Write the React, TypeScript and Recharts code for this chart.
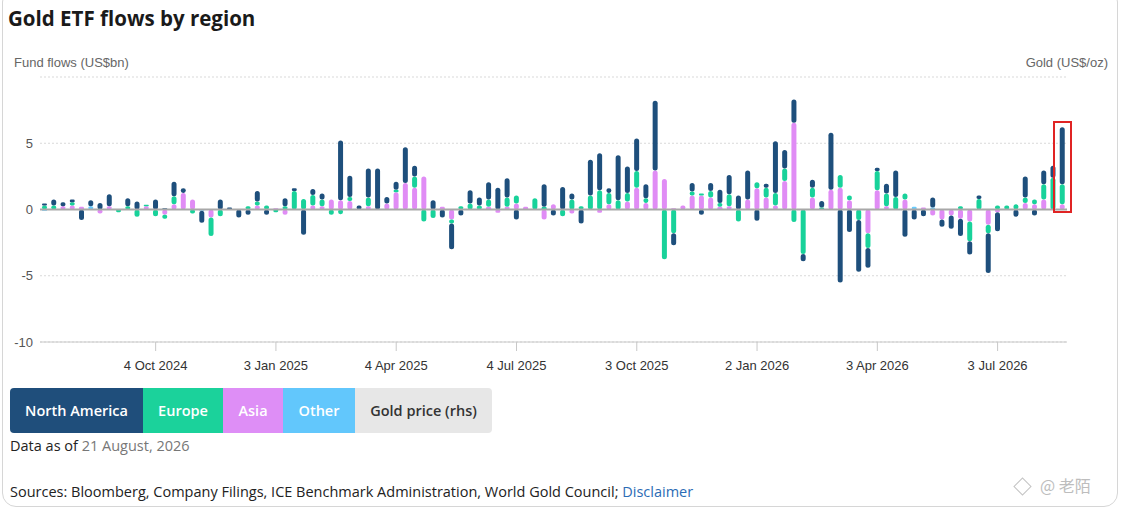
import React from 'react';
import { BarChart, Bar, XAxis, YAxis, CartesianGrid, ReferenceLine } from 'recharts';

// Weekly dates (Fridays)
const dates: string[] = [
  '2024-07-12', '2024-07-19', '2024-07-26', '2024-08-02', '2024-08-09', '2024-08-16', '2024-08-23', '2024-08-30',
  '2024-09-06', '2024-09-13', '2024-09-20', '2024-09-27', '2024-10-04', '2024-10-11', '2024-10-18', '2024-10-25',
  '2024-11-01', '2024-11-08', '2024-11-15', '2024-11-22', '2024-11-29', '2024-12-06', '2024-12-13', '2024-12-20',
  '2024-12-27', '2025-01-03', '2025-01-10', '2025-01-17', '2025-01-24', '2025-01-31', '2025-02-07', '2025-02-14',
  '2025-02-21', '2025-02-28', '2025-03-07', '2025-03-14', '2025-03-21', '2025-03-28', '2025-04-04', '2025-04-11',
  '2025-04-18', '2025-04-25', '2025-05-02', '2025-05-09', '2025-05-16', '2025-05-23', '2025-05-30', '2025-06-06',
  '2025-06-13', '2025-06-20', '2025-06-27', '2025-07-04', '2025-07-11', '2025-07-18', '2025-07-25', '2025-08-01',
  '2025-08-08', '2025-08-15', '2025-08-22', '2025-08-29', '2025-09-05', '2025-09-12', '2025-09-19', '2025-09-26',
  '2025-10-03', '2025-10-10', '2025-10-17', '2025-10-24', '2025-10-31', '2025-11-07', '2025-11-14', '2025-11-21',
  '2025-11-28', '2025-12-05', '2025-12-12', '2025-12-19', '2025-12-26', '2026-01-02', '2026-01-09', '2026-01-16',
  '2026-01-23', '2026-01-30', '2026-02-06', '2026-02-13', '2026-02-20', '2026-02-27', '2026-03-06', '2026-03-13',
  '2026-03-20', '2026-03-27', '2026-04-03', '2026-04-10', '2026-04-17', '2026-04-24', '2026-05-01', '2026-05-08',
  '2026-05-15', '2026-05-22', '2026-05-29', '2026-06-05', '2026-06-12', '2026-06-19', '2026-06-26', '2026-07-03',
  '2026-07-10', '2026-07-17', '2026-07-24', '2026-07-31', '2026-08-07', '2026-08-14', '2026-08-21',
];

// Fund flows, US$bn
const northAmerica: number[] = [
  0.15, 0.45, 0.3, 0.2, -0.8, 0.45, 0.5, 0.9, 0, 0.6, 0.6, 0, 0.75, 0.1, 1.1, 0.35,
  0, -0.9, 0, 0.75, 0.15, -0.6, -0.4, 0.8, -0.4, 0, 0.6, 0.2, -1.9, 0.45, 0.45, 0,
  4.5, 1.6, 0.3, 2.2, 3.1, 0.5, 0.6, 2.7, 0.8, 0, 0.7, -0.6, -1.95, -0.45, 1.0, 0.6,
  1.3, 1.65, 1.45, -0.75, 0, 0, 1.7, -0.45, 1.7, 0.45, -1.05, 2.7, 2.8, 0.35, 3.4, 2.0,
  2.45, 1.05, 5.25, 0, -0.9, 0, 0.65, -0.4, 0.6, 1.0, 1.45, 1.05, 2.2, -0.85, 0.3, 3.9,
  1.4, 1.75, -0.55, 0.6, 0.5, 4.3, -5.5, -1.7, -3.9, -1.5, 0.25, 0.75, 2.0, -2.05, -0.75, -0.5,
  0.75, -0.55, -1.0, -1.3, -1.0, 0.25, -3.0, -1.45, 0, -0.55, 1.6, -0.45, 1.05, 0.9, 4.3,
];
const europe: number[] = [
  0.3, 0.3, 0, 0.25, 0, 0, 0, 0, -0.2, 0.25, -0.55, 0.1, -0.5, -0.3, 0.6, 0,
  -0.3, 0, -1.4, -0.5, 0, 0, 0.25, 0.3, 0.3, -0.2, 0.25, 1.4, 0.8, 0.8, 0.5, -0.4,
  -0.35, 0.3, 0, 0.65, 0, 0, 0.2, 0, 0.85, -0.9, -0.65, 0, -0.3, 0.25, 0.45, 0.3,
  0.55, 0, 0.7, 0.6, 0, 0.85, 0.2, 0, -0.5, 0.75, 0.25, 1.05, 1.45, 0.85, 0.7, 0.65,
  1.25, 0.35, 0, -3.75, -1.8, 0, 0.3, 0.15, 0.5, 0.3, 0.9, -0.9, 0, 0.45, 0.75, 0.95,
  0.95, -0.95, -3.35, 0.75, 0.15, 0, 0.95, 0.35, -0.8, -1.1, 1.45, 0.95, 0.95, 0.45, 0, 0,
  0, 0, 0, 0.25, -1.5, 0.8, -0.65, 0.3, 0.3, 0.4, 0.4, 0.35, 1.15, 2.4, 1.5,
];
const asia: number[] = [
  0, 0, 0.25, 0.3, 0.2, 0, -0.3, 0.25, 0, 0, 0, 0.25, 0, -0.4, 0.4, 1.25,
  0.75, 0, -0.6, 0, 0, 0, 0, 0.3, 0, 0.1, -0.4, 0, 0, 0.3, 0.25, 0.75,
  0.7, 0.65, 0, 0.25, 0, 0.45, 1.3, 2.0, 1.65, 2.5, 0, 0.2, -0.75, 0, 0, 0,
  0.2, -0.25, 0.2, 0.45, 0.2, 0, -0.75, 0.4, 0, -0.3, 0, 0, -0.25, 0.4, 0, 0.6,
  1.65, 0.5, 2.95, 2.3, 0.1, 0.3, 1.05, 1.05, 0.9, 0.2, 0.25, 0, 0.75, 1.6, 0.9, 0.3,
  2.15, 6.55, 0, 0.9, 0, 1.5, 1.65, 0.7, 0, -1.8, 1.45, 0.25, 0, 0.75, 0, 0.15,
  -0.45, -0.75, -0.45, -0.7, -0.9, 0, -1.15, -0.2, 0, 0, 0.5, 0.4, 0.75, 0, 0.4,
];
const other: number[] = [
  -0.1, 0, 0, 0, 0, 0.25, 0, 0, 0, 0, 0, 0, 0, 0, 0, 0,
  0, -0.1, 0, 0, 0, 0, 0, 0, 0, 0, 0, 0, 0, 0, 0, 0,
  0, 0, 0, 0, 0, 0, 0, 0, 0, 0, 0, 0, 0, 0, 0, 0,
  0, 0, 0, 0, 0, 0, 0, 0, 0, 0, 0, 0, 0, 0, 0, 0,
  0, 0, 0, 0, 0, 0, 0, 0, 0, 0, 0, 0, 0, 0, 0, 0,
  0, 0, 0, 0, 0, 0, 0, 0, 0, 0, 0, 0, 0, 0, 0.2, 0,
  0.15, 0, 0, 0, 0, 0, 0, 0, 0, 0, 0, 0, 0, 0, 0,
];

const tickDates: string[] = ['2024-10-04', '2025-01-03', '2025-04-04', '2025-07-04', '2025-10-03', '2026-01-02', '2026-04-03', '2026-07-03'];
const tickLabels: string[] = ['4 Oct 2024', '3 Jan 2025', '4 Apr 2025', '4 Jul 2025', '3 Oct 2025', '2 Jan 2026', '3 Apr 2026', '3 Jul 2026'];
const yTicks: number[] = [-10, -5, 0, 5, 10];

const seriesNames = ['North America', 'Europe', 'Asia', 'Other', 'Gold price (rhs)'];

const COLORS = {
  na: '#1e4f7c',
  europe: '#18d29a',
  asia: '#e08cf5',
  other: '#66ccff',
};

const data = dates.map((d, i) => ({
  date: d,
  other: other[i],
  asia: asia[i],
  europe: europe[i],
  na: northAmerica[i],
}));

const legendItems = [
  { name: seriesNames[0], bg: '#1f4e7b', color: '#ffffff', width: 133 },
  { name: seriesNames[1], bg: '#1bd29b', color: '#ffffff', width: 80 },
  { name: seriesNames[2], bg: '#de8ef6', color: '#ffffff', width: 60 },
  { name: seriesNames[3], bg: '#62c7fc', color: '#ffffff', width: 72 },
  { name: seriesNames[4], bg: '#e7e7e7', color: '#333333', width: 137 },
];

const sans = '"Open Sans", "Noto Sans", sans-serif';
const arial = '"Liberation Sans", Arial, sans-serif';

export default function App() {
  return (
    <div style={{ position: 'absolute', left: 0, top: 0, width: 1122, height: 510, background: '#fff', overflow: 'hidden' }}>
      <div style={{ position: 'absolute', left: 2, top: -12, width: 1116, height: 519, border: '1px solid #d6d6d6', borderRadius: 14, boxSizing: 'border-box' }} />
      <div style={{ position: 'absolute', left: 8, top: 5, lineHeight: '26px', fontSize: 20.5, fontWeight: 700, fontFamily: sans, color: '#1a1a1a' }}>
        Gold ETF flows by region
      </div>
      <div style={{ position: 'absolute', left: 14, top: 55, lineHeight: '16px', fontSize: 13, fontFamily: arial, color: '#666' }}>
        Fund flows (US$bn)
      </div>
      <div style={{ position: 'absolute', right: 14, top: 55, lineHeight: '16px', fontSize: 13, fontFamily: arial, color: '#666' }}>
        Gold (US$/oz)
      </div>

      <div style={{ position: 'absolute', left: 0, top: 0 }}>
        <BarChart
          width={1122}
          height={380}
          data={data}
          stackOffset="sign"
          barCategoryGap={0}
          margin={{ top: 77, right: 55, left: 0, bottom: 0 }}
        >
          <CartesianGrid vertical={false} strokeDasharray="2 2" stroke="#d9d9d9" />
          <XAxis
            dataKey="date"
            type="category"
            ticks={tickDates}
            interval={0}
            height={38}
            tickSize={9}
            tickMargin={10}
            axisLine={{ stroke: '#c8c8c8' }}
            tickLine={{ stroke: '#c8c8c8' }}
            tick={{ fontSize: 13, fill: '#333', fontFamily: arial }}
            tickFormatter={(v: string) => {
              const k = tickDates.indexOf(v);
              return k >= 0 ? tickLabels[k] : '';
            }}
          />
          <YAxis
            type="number"
            domain={[-10, 10]}
            ticks={yTicks}
            allowDataOverflow
            width={40}
            tickSize={0}
            tickMargin={7}
            axisLine={false}
            tickLine={false}
            tick={{ fontSize: 13, fill: '#555', fontFamily: arial }}
            tickFormatter={(v: number) => (v === 10 ? '' : String(v))}
          />
          <Bar dataKey="other" stackId="s" fill={COLORS.other} barSize={5} radius={2.5} isAnimationActive={false} />
          <Bar dataKey="asia" stackId="s" fill={COLORS.asia} barSize={5} radius={2.5} isAnimationActive={false} />
          <Bar dataKey="europe" stackId="s" fill={COLORS.europe} barSize={5} radius={2.5} isAnimationActive={false} />
          <Bar dataKey="na" stackId="s" fill={COLORS.na} barSize={5} radius={2.5} isAnimationActive={false} />
          <ReferenceLine y={0} stroke="#a8a8a8" strokeWidth={2} />
        </BarChart>
      </div>

      <div style={{ position: 'absolute', left: 1053, top: 121, width: 19, height: 92, border: '2px solid #e02424', boxSizing: 'border-box' }} />

      <div style={{ position: 'absolute', left: 10, top: 388, height: 45, display: 'flex', borderRadius: 4, overflow: 'hidden' }}>
        {legendItems.map((it) => (
          <div
            key={it.name}
            style={{
              width: it.width,
              height: 45,
              background: it.bg,
              color: it.color,
              fontFamily: sans,
              fontWeight: 600,
              fontSize: 14.5,
              display: 'flex',
              alignItems: 'center',
              justifyContent: 'center',
            }}
          >
            {it.name}
          </div>
        ))}
      </div>

      <div style={{ position: 'absolute', left: 10, top: 435, lineHeight: '22px', fontSize: 14.5, fontFamily: sans, color: '#222' }}>
        Data as of <span style={{ color: '#777' }}>21 August, 2026</span>
      </div>
      <div style={{ position: 'absolute', left: 10, top: 481, lineHeight: '22px', fontSize: 14.5, fontFamily: sans, color: '#222' }}>
        Sources: Bloomberg, Company Filings, ICE Benchmark Administration, World Gold Council; <span style={{ color: '#2b6cb5' }}>Disclaimer</span>
      </div>
      <div style={{ position: 'absolute', left: 1016, top: 480, width: 11, height: 11, border: '1.5px solid #c4c4c4', transform: 'rotate(45deg)' }} />
      <div style={{ position: 'absolute', left: 1040, top: 474, lineHeight: '22px', fontSize: 16, fontFamily: '"Noto Sans CJK SC", sans-serif', color: '#bdbdbd' }}>
        @ 老陌
      </div>
    </div>
  );
}
